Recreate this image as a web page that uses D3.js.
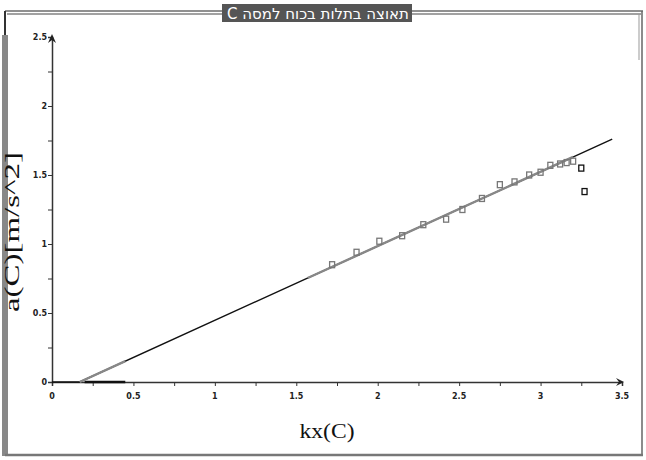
<!DOCTYPE html>
<html>
<head>
<meta charset="utf-8">
<script src="https://cdn.jsdelivr.net/npm/d3@7"></script>
<style>
  body { margin: 0; background: #fff; }
  svg { display: block; }
</style>
</head>
<body>
<div id="chart"></div>
<script>
const kx = [1.72, 1.87, 2.01, 2.15, 2.28, 2.42, 2.52, 2.64, 2.75, 2.84, 2.93, 3.00, 3.06, 3.12, 3.16, 3.20, 3.25, 3.27];
const acc = [0.85, 0.94, 1.02, 1.06, 1.14, 1.18, 1.25, 1.33, 1.43, 1.45, 1.50, 1.52, 1.57, 1.58, 1.59, 1.60, 1.55, 1.38];

// fitted line
const fitX = [0, 0.17, 3.44];
const fitY = [0, 0, 1.76];
// parts of the fit drawn in grey
const greyFrom = [0.17, 1.57];
const greyTo = [0.45, 3.2];
// dark stretch on the x axis
const axisMarkX = [0.2, 0.45];

const xTicks = [0, 0.5, 1, 1.5, 2, 2.5, 3, 3.5];
const xTickLabels = ["0", "0.5", "1", "1.5", "2", "2.5", "3", "3.5"];
const yTicks = [0, 0.5, 1, 1.5, 2, 2.5];
const yTickLabels = ["0", "0.5", "1", "1.5", "2", "2.5"];

const title = "תאוצה בתלות בכוח למסה C";

const width = 646, height = 460;

const svg = d3.select("#chart").append("svg")
    .attr("width", width)
    .attr("height", height);

// frame
svg.append("rect").attr("x", 0).attr("y", 0).attr("width", width).attr("height", height).attr("fill", "#fff");
svg.append("line").attr("x1", 5).attr("x2", 643).attr("y1", 11).attr("y2", 11).attr("stroke", "#222").attr("stroke-width", 1.2);
svg.append("line").attr("x1", 7).attr("x2", 641).attr("y1", 14).attr("y2", 14).attr("stroke", "#444").attr("stroke-width", 1.2);
svg.append("line").attr("x1", 5).attr("x2", 5).attr("y1", 11).attr("y2", 456).attr("stroke", "#333").attr("stroke-width", 2);
svg.append("line").attr("x1", 5).attr("x2", 5).attr("y1", 35).attr("y2", 456).attr("stroke", "#888").attr("stroke-width", 6);
svg.append("line").attr("x1", 642).attr("x2", 642).attr("y1", 11).attr("y2", 456).attr("stroke", "#666").attr("stroke-width", 1.5);
svg.append("line").attr("x1", 639).attr("x2", 639).attr("y1", 14).attr("y2", 60).attr("stroke", "#999").attr("stroke-width", 1);
svg.append("line").attr("x1", 5).attr("x2", 643).attr("y1", 455).attr("y2", 455).attr("stroke", "#777").attr("stroke-width", 2.5);

// title box
svg.append("rect").attr("x", 222).attr("y", 4).attr("width", 190).attr("height", 18).attr("fill", "#555");
svg.append("text")
    .attr("x", 318).attr("y", 18.5)
    .attr("text-anchor", "middle")
    .attr("direction", "rtl")
    .attr("fill", "#fff")
    .attr("textLength", 182)
    .attr("lengthAdjust", "spacingAndGlyphs")
    .style("font-family", "'DejaVu Sans Condensed', 'DejaVu Sans', sans-serif")
    .style("font-size", "15px")
    .text(title);

const x = d3.scaleLinear().domain([0, 3.5]).range([52, 622]);
const y = d3.scaleLinear().domain([0, 2.5]).range([382, 37]);

// axes
const xAxis = d3.axisBottom(x).tickValues(d3.range(0, 3.5001, 0.25)).tickSize(4).tickFormat("");
const yAxis = d3.axisLeft(y).tickValues(d3.range(0, 2.5001, 0.25)).tickSize(4).tickFormat("");

const gx = svg.append("g").attr("transform", `translate(0,${y(0)})`).call(xAxis);
const gy = svg.append("g").attr("transform", `translate(${x(0)},0)`).call(yAxis);
[gx, gy].forEach(g => {
    g.select(".domain").attr("stroke", "#333").attr("stroke-width", 1.5);
    g.selectAll(".tick line").attr("stroke", "#333");
});

svg.append("line")
    .attr("x1", x(axisMarkX[0])).attr("x2", x(axisMarkX[1]))
    .attr("y1", y(0)).attr("y2", y(0))
    .attr("stroke", "#111").attr("stroke-width", 2.5);

// arrow heads
svg.append("path")
    .attr("d", `M${x(0)},${y(2.5) - 3} l-4,9 l4,-3 l4,3 z`)
    .attr("fill", "#222");
svg.append("path")
    .attr("d", `M${x(3.5) + 2},${y(0)} l-8,-4 l3,4 l-3,4 z`)
    .attr("fill", "#222");

// tick labels
const tickFont = "'DejaVu Sans', sans-serif";
svg.append("g").selectAll("text")
    .data(xTicks)
    .join("text")
    .attr("x", d => x(d))
    .attr("y", y(0) + 17)
    .attr("text-anchor", "middle")
    .style("font-family", tickFont)
    .style("font-size", "8px")
    .style("font-weight", "bold")
    .attr("fill", "#222")
    .text((d, i) => xTickLabels[i]);

svg.append("g").selectAll("text")
    .data(yTicks)
    .join("text")
    .attr("x", x(0) - 5)
    .attr("y", d => y(d) + 3)
    .attr("text-anchor", "end")
    .style("font-family", tickFont)
    .style("font-size", "8px")
    .style("font-weight", "bold")
    .attr("fill", "#222")
    .text((d, i) => yTickLabels[i]);

// axis titles
svg.append("text")
    .attr("x", 327).attr("y", 438)
    .attr("text-anchor", "middle")
    .attr("textLength", 55)
    .attr("lengthAdjust", "spacingAndGlyphs")
    .style("font-family", "'Liberation Serif', serif")
    .style("font-size", "22px")
    .attr("fill", "#111")
    .text("kx(C)");

svg.append("text")
    .attr("transform", "translate(19,232) rotate(-90)")
    .attr("text-anchor", "middle")
    .attr("textLength", 160)
    .attr("lengthAdjust", "spacingAndGlyphs")
    .style("font-family", "'Liberation Serif', serif")
    .style("font-size", "21px")
    .attr("fill", "#111")
    .text("a(C)[m/s^2]");

// fit line
const fitPts = fitX.map((d, i) => [d, fitY[i]]);
const line = d3.line().x(d => x(d[0])).y(d => y(d[1]));
svg.append("path")
    .datum(fitPts)
    .attr("d", line)
    .attr("fill", "none")
    .attr("stroke", "#111")
    .attr("stroke-width", 1.4);

// grey overlay sections of the fit line
const slope = (fitY[2] - fitY[1]) / (fitX[2] - fitX[1]);
const fitAt = v => v <= fitX[1] ? 0 : (v - fitX[1]) * slope;
svg.append("g").selectAll("line")
    .data(greyFrom)
    .join("line")
    .attr("x1", d => x(d))
    .attr("y1", d => y(fitAt(d)))
    .attr("x2", (d, i) => x(greyTo[i]))
    .attr("y2", (d, i) => y(fitAt(greyTo[i])))
    .attr("stroke", "#888")
    .attr("stroke-width", 2.4);

// markers
svg.append("g").selectAll("rect")
    .data(kx)
    .join("rect")
    .attr("x", d => x(d) - 2.5)
    .attr("y", (d, i) => y(acc[i]) - 3)
    .attr("width", 5)
    .attr("height", 6)
    .attr("fill", "none")
    .attr("stroke", (d, i) => i >= 16 ? "#111" : "#777")
    .attr("stroke-width", 1.3);
</script>
</body>
</html>
